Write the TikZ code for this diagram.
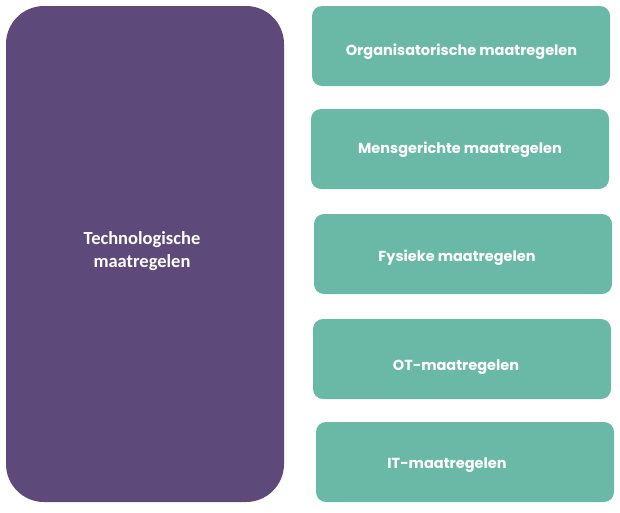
\documentclass[tikz,border=0pt]{standalone}
\usepackage{fontspec}
\newfontfamily\popfont{Poppins}
\newfontfamily\calfont{Carlito}
\definecolor{techpurple}{RGB}{94,74,122}
\definecolor{measgreen}{RGB}{106,185,166}
\begin{document}
\begin{tikzpicture}[x=1pt,y=-1pt,
  techbox/.style={fill=techpurple, draw=none, rounded corners=38pt, minimum width=278pt, minimum height=496pt, inner sep=0pt},
  measbox/.style={fill=measgreen, draw=none, rounded corners=10pt, minimum width=298pt, minimum height=80pt, inner sep=0pt},
  meastext/.style={anchor=base, inner sep=0pt, text=white, font=\popfont\bfseries\fontsize{14.5}{17}\selectfont},
  techlabel/.style={text=white, align=center, font=\calfont\bfseries\fontsize{18.5}{22.7}\selectfont}]
\useasboundingbox (0,0) rectangle (620,512);
\node[techbox] (tech) at (145,254) {};
\node[techlabel] (techtext) at (142,251) {Technologische\\maatregelen};
\node[measbox] (org) at (461,46) {};
\node[measbox] (mens) at (460,149) {};
\node[measbox] (fys) at (463,254) {};
\node[measbox] (ot) at (462,359) {};
\node[measbox] (it) at (465,462) {};
\node[meastext] (orgtext) at (461.5,55) {Organisatorische maatregelen};
\node[meastext] (menstext) at (460,153.3) {Mensgerichte maatregelen};
\node[meastext] (fystext) at (457,261.7) {Fysieke maatregelen};
\node[meastext] (ottext) at (456,370) {OT-maatregelen};
\node[meastext] (ittext) at (447,468.3) {IT-maatregelen};
\end{tikzpicture}
\end{document}
